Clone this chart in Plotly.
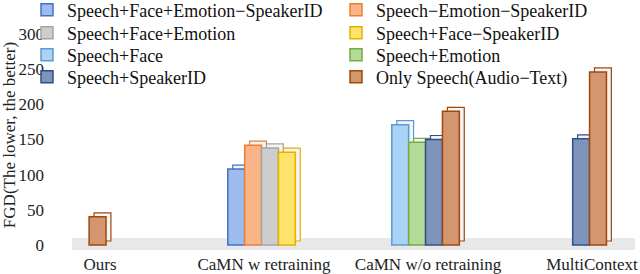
import plotly.graph_objects as go

categories = ["Ours", "CaMN w retraining", "CaMN w/o retraining", "MultiContext"]

series_names = [
    "Speech+Face+Emotion−SpeakerID",
    "Speech−Emotion−SpeakerID",
    "Speech+Face+Emotion",
    "Speech+Face−SpeakerID",
    "Speech+Face",
    "Speech+Emotion",
    "Speech+SpeakerID",
    "Only Speech(Audio−Text)",
]

# values per series, aligned with categories (None = no bar)
sfe_sid = [None, 108, None, None]
s_e_sid = [None, 142, None, None]
sfe = [None, 138, None, None]
sf_sid = [None, 132, None, None]
sf = [None, None, 171, None]
se = [None, None, 146, None]
s_sid = [None, None, 150, 151]
only_speech = [40, None, 190, 246]

series_values = [sfe_sid, s_e_sid, sfe, sf_sid, sf, se, s_sid, only_speech]

fill_colors = ["#9DBBEB", "#F9B487", "#CDCDCD", "#FFE36B",
               "#A9D2F4", "#B3DA97", "#7F94BA", "#D4966E"]
line_colors = ["#4472C4", "#ED7D31", "#A5A5A5", "#E5B000",
               "#5B9BD5", "#70AD47", "#2F4F88", "#9E480E"]

W, H = 640, 274
bar_w = 0.103          # front face width (category units)
depth_dx = 0.03        # 3D depth offset, x (category units)
depth_dy = 5.7         # 3D depth offset, y (value units)
font_family = "Liberation Serif"

# count bars per category and position index of each series in that category
counts = [sum(1 for s in series_values if s[c] is not None) for c in range(len(categories))]
slot = [[0] * len(categories) for _ in series_values]
for c in range(len(categories)):
    k = 0
    for i, s in enumerate(series_values):
        if s[c] is not None:
            slot[i][c] = k
            k += 1

pitch = bar_w
legend_ids = ["legend", "legend2", "legend3", "legend4"]


def bar_points(i, vals):
    xs, ys, offs = [], [], []
    for c, v in enumerate(vals):
        if v is None:
            continue
        xs.append(c)
        ys.append(v)
        offs.append((slot[i][c] - counts[c] / 2) * pitch - depth_dx / 2)
    return xs, ys, offs


fig = go.Figure()
# draw bar by bar (left to right): back depth box, then front face
for i, (name, vals) in enumerate(zip(series_names, series_values)):
    xs, ys, offs = bar_points(i, vals)
    fig.add_trace(go.Bar(
        x=xs, y=ys, base=depth_dy, width=bar_w,
        offset=[o + depth_dx for o in offs],
        marker=dict(color="#F4F4F4", line=dict(color=line_colors[i], width=1.2)),
        showlegend=False, hoverinfo="skip", legend=legend_ids[i // 2],
    ))
    fig.add_trace(go.Bar(
        x=xs, y=ys, name=name,
        width=bar_w, offset=offs,
        marker=dict(color=fill_colors[i], line=dict(color=line_colors[i], width=1.5)),
        legend=legend_ids[i // 2],
    ))

margin = dict(l=0, r=5, t=0, b=24, autoexpand=False)
paper_w = W - margin["l"] - margin["r"]
paper_h = H - margin["t"] - margin["b"]

legend_rows_px = [10, 33, 55, 77]
legend_cfg = {}
for r, lid in enumerate(legend_ids):
    legend_cfg[lid] = dict(
        orientation="h",
        x=27 / paper_w, y=1 - (legend_rows_px[r] - 18.5) / paper_h,
        xanchor="left", yanchor="top",
        bgcolor="rgba(0,0,0,0)",
        font=dict(size=18, family=font_family, color="#111"),
        entrywidth=264, entrywidthmode="pixels",
        itemwidth=30, tracegroupgap=0,
    )

fig.update_layout(
    width=W, height=H,
    margin=margin,
    paper_bgcolor="white", plot_bgcolor="white",
    barmode="overlay",
    font=dict(family=font_family, size=17, color="#222"),
    showlegend=True,
    **legend_cfg,
    xaxis=dict(
        domain=[60 / paper_w, 1],
        tickmode="array", tickvals=list(range(len(categories))), ticktext=categories,
        range=[-0.244, 3.262], showgrid=False, zeroline=False, showline=False,
        ticks="", ticklabelstandoff=2,
        tickfont=dict(size=17, family=font_family, color="#222"),
    ),
    yaxis=dict(
        domain=[0, 1 - 20 / paper_h],
        range=[-7.1, 319.9], tickvals=[0, 50, 100, 150, 200, 250, 300],
        showgrid=False, zeroline=False, showline=False, ticks="",
        ticklabelstandoff=15,
        tickfont=dict(size=17, family=font_family, color="#222"),
        title=dict(text="FGD(The lower, the better)", standoff=0,
                   font=dict(size=17, family=font_family, color="#222")),
    ),
    shapes=[dict(type="rect", xref="paper", yref="y", x0=72 / paper_w, x1=1.0, y0=-7, y1=10,
                 fillcolor="#E8E8E8", line=dict(width=0), layer="below")],
)

fig.write_html("out.html", config={"displayModeBar": False},
               post_script="document.body.style.margin='0';")
